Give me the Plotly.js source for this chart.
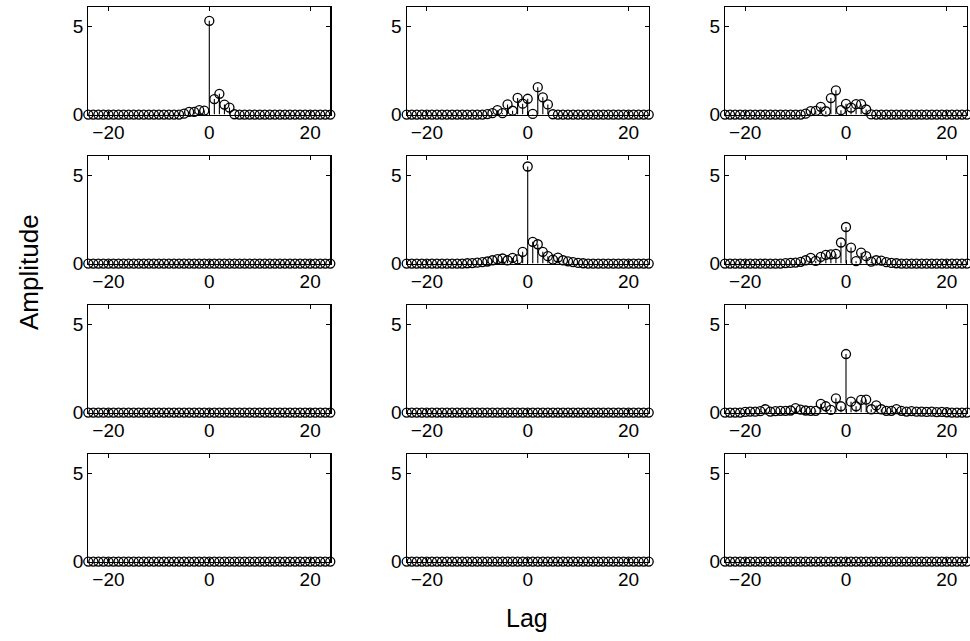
<!DOCTYPE html>
<html><head><meta charset="utf-8">
<script src="https://cdn.plot.ly/plotly-3.0.1.min.js"></script>
<style>html,body{margin:0;padding:0;background:#fff}#chart{width:970px;height:641px}</style>
</head><body><div id="chart"></div>
<script>
const lags = [-24,-23,-22,-21,-20,-19,-18,-17,-16,-15,-14,-13,-12,-11,-10,-9,-8,-7,-6,-5,-4,-3,-2,-1,0,1,2,3,4,5,6,7,8,9,10,11,12,13,14,15,16,17,18,19,20,21,22,23,24];
const xTicks = [-20, 0, 20];
const yTicks = [0, 5];
const xLabel = 'Lag';
const yLabel = 'Amplitude';

const p11 = [0,0,0,0,0,0,0,0,0,0,0,0,0,0,0,0,0,0,0, 0.05,0.15,0.15,0.25,0.23,5.33,0.88,1.18,0.57,0.40,0.02, 0,0,0,0,0,0,0,0,0,0,0,0,0,0,0,0,0,0,0];
const p12 = [0,0,0,0,0,0,0,0,0,0,0,0,0,0,0,0, 0.03,0.08,0.25,0.08,0.58,0.22,0.95,0.62,0.90,0.04,1.56,0.98,0.58,0.02, 0,0,0,0,0,0,0,0,0,0,0,0,0,0,0,0,0,0,0];
const p13 = [0,0,0,0,0,0,0,0,0,0,0,0,0,0,0,0, 0.05,0.20,0.21,0.44,0.19,0.94,1.38,0.25,0.61,0.40,0.59,0.59,0.29,0.01, 0,0,0,0,0,0,0,0,0,0,0,0,0,0,0,0,0,0,0];
const p21 = [0,0,0,0,0,0,0,0,0,0,0,0,0,0,0,0,0,0,0,0,0,0,0,0,0,0,0,0,0,0,0,0,0,0,0,0,0,0,0,0,0,0,0,0,0,0,0,0,0];
const p22 = [0,0,0,0,0,0,0,0,0,0,0,0, 0.02,0.03,0.05,0.08,0.12,0.19,0.25,0.29,0.19,0.32,0.24,0.67,5.52,1.24,1.10,0.67,0.42,0.23,0.34,0.19,0.13,0.08,0.04,0.02, 0,0,0,0,0,0,0,0,0,0,0,0,0];
const p23 = [0,0,0,0,0,0,0,0,0,0,0,0, 0.03,0.04,0.06,0.10,0.19,0.32,0.15,0.38,0.50,0.53,0.55,1.20,2.08,0.91,0.14,0.62,0.42,0.11,0.19,0.17,0.08,0.04,0.02, 0,0,0,0,0,0,0,0,0,0,0,0,0,0];
const p31 = [0,0,0,0,0,0,0,0,0,0,0,0,0,0,0,0,0,0,0,0,0,0,0,0,0,0,0,0,0,0,0,0,0,0,0,0,0,0,0,0,0,0,0,0,0,0,0,0,0];
const p32 = [0,0,0,0,0,0,0,0,0,0,0,0,0,0,0,0,0,0,0,0,0,0,0,0,0,0,0,0,0,0,0,0,0,0,0,0,0,0,0,0,0,0,0,0,0,0,0,0,0];
const p33 = [0,0,0,0, 0.04,0.06,0.05,0.08,0.19,0.06,0.08,0.10,0.10,0.12,0.25,0.17,0.12,0.10,0.10,0.50,0.36,0.15,0.81,0.36,3.33,0.62,0.36,0.72,0.74,0.19,0.41,0.19,0.10,0.10,0.20,0.10,0.06,0.08,0.05,0.06,0.04,0.05,0.03,0.04,0.02, 0,0,0,0];
const p41 = [0,0,0,0,0,0,0,0,0,0,0,0,0,0,0,0,0,0,0,0,0,0,0,0,0,0,0,0,0,0,0,0,0,0,0,0,0,0,0,0,0,0,0,0,0,0,0,0,0];
const p42 = [0,0,0,0,0,0,0,0,0,0,0,0,0,0,0,0,0,0,0,0,0,0,0,0,0,0,0,0,0,0,0,0,0,0,0,0,0,0,0,0,0,0,0,0,0,0,0,0,0];
const p43 = [0,0,0,0,0,0,0,0,0,0,0,0,0,0,0,0,0,0,0,0,0,0,0,0,0,0,0,0,0,0,0,0,0,0,0,0,0,0,0,0,0,0,0,0,0,0,0,0,0];

const panels = [[p11,p12,p13],[p21,p22,p23],[p31,p32,p33],[p41,p42,p43]];

const W = 970, H = 641;
const colLeft = [88.3, 406.7, 725];
const colW = 242;
const rowTop = [7.3, 156.3, 305.3, 454.3];
const rowH = 107.3;

const traces = [];
const layout = {
  width: W, height: H,
  margin: {l: 0, r: 0, t: 0, b: 0},
  showlegend: false,
  paper_bgcolor: '#fff', plot_bgcolor: '#fff',
  font: {family: 'Liberation Sans, Arial, sans-serif', size: 19, color: '#000'},
  annotations: [
    {text: yLabel, xref: 'paper', yref: 'paper', x: 29/W, y: 1 - 272/H, textangle: -90,
     showarrow: false, xanchor: 'center', yanchor: 'middle', font: {size: 26}},
    {text: xLabel, xref: 'paper', yref: 'paper', x: 527/W, y: 1 - 618/H,
     showarrow: false, xanchor: 'center', yanchor: 'middle', font: {size: 25}}
  ]
};

let k = 0;
for (let r = 0; r < 4; r++) {
  for (let c = 0; c < 3; c++) {
    k++;
    const xn = k === 1 ? 'x' : 'x' + k;
    const yn = k === 1 ? 'y' : 'y' + k;
    const xk = k === 1 ? 'xaxis' : 'xaxis' + k;
    const yk = k === 1 ? 'yaxis' : 'yaxis' + k;
    const vals = panels[r][c];
    traces.push({
      type: 'scatter', mode: 'markers', x: lags, y: vals, xaxis: xn, yaxis: yn,
      cliponaxis: false, hoverinfo: 'x+y',
      marker: {symbol: 'circle-open', size: 9, color: '#000', line: {width: 1.3, color: '#000'}},
      error_y: {type: 'data', symmetric: false, array: vals.map(() => 0), arrayminus: vals,
                width: 0, thickness: 1.1, color: '#000'}
    });
    const axCommon = {
      showgrid: false, zeroline: false, showline: true, linecolor: '#000', linewidth: 1.2,
      mirror: 'ticks', ticks: 'inside', ticklen: 4, tickcolor: '#000', tickwidth: 1,
      tickfont: {size: 19, color: '#000'}, fixedrange: true
    };
    layout[xk] = Object.assign({}, axCommon, {
      domain: [colLeft[c]/W, (colLeft[c] + colW)/W], range: [-24, 24],
      tickmode: 'array', tickvals: xTicks, anchor: yn
    });
    layout[yk] = Object.assign({}, axCommon, {
      domain: [1 - (rowTop[r] + rowH)/H, 1 - rowTop[r]/H], range: [0, 6.1],
      tickmode: 'array', tickvals: yTicks, anchor: xn, ticklabelstandoff: 0
    });
  }
}

Plotly.newPlot('chart', traces, layout, {displayModeBar: false, staticPlot: true});
</script>
</body></html>
